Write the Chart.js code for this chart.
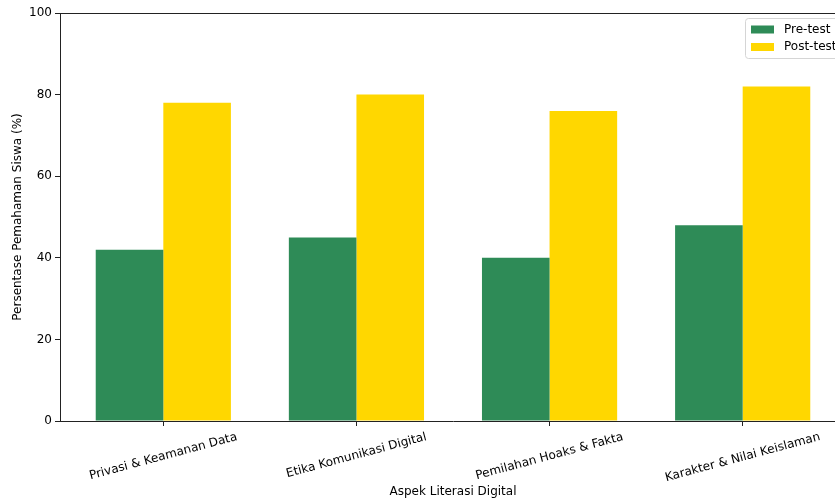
<!DOCTYPE html>
<html>
<head>
<meta charset="utf-8">
<script src="https://cdn.jsdelivr.net/npm/chart.js@4/dist/chart.umd.min.js"></script>
<style>
html,body{margin:0;padding:0;background:#fff;overflow:hidden;}
canvas{display:block;}
</style>
</head>
<body>
<canvas id="c" width="870" height="501" style="width:870px;height:501px"></canvas>
<script>
const categories = ["Privasi & Keamanan Data", "Etika Komunikasi Digital", "Pemilahan Hoaks & Fakta", "Karakter & Nilai Keislaman"];
const preTest = [42, 45, 40, 48];
const postTest = [78, 80, 76, 82];
const seriesNames = ["Pre-test", "Post-test"];
const seriesColors = ["#2E8B57", "#FFD700"];
const yTicks = [0, 20, 40, 60, 80, 100];
const xTitle = "Aspek Literasi Digital";
const yTitle = "Persentase Pemahaman Siswa (%)";

const FONT = "'DejaVu Sans', sans-serif";
Chart.defaults.font.family = FONT;
Chart.defaults.font.size = 12;
Chart.defaults.color = '#000';

const decor = {
  id: 'decor',
  afterDraw(chart) {
    const ctx = chart.ctx;
    const a = chart.chartArea;
    const xs = chart.scales.x;
    ctx.save();
    // top spine
    ctx.strokeStyle = '#222';
    ctx.lineWidth = 1;
    ctx.beginPath();
    ctx.moveTo(a.left, a.top + 0.5);
    ctx.lineTo(a.right, a.top + 0.5);
    ctx.stroke();
    // x tick labels rotated 15deg, centered
    ctx.font = '12px ' + FONT;
    ctx.fillStyle = '#000';
    const th = 14;
    const ang = 15 * Math.PI / 180;
    categories.forEach((lab, i) => {
      const x = xs.getPixelForValue(i);
      const w = ctx.measureText(lab).width;
      const bh = w * Math.sin(ang) + th * Math.cos(ang);
      const cy = a.bottom + 9 + bh / 2;
      ctx.save();
      ctx.translate(x, cy);
      ctx.rotate(-ang);
      ctx.textAlign = 'center';
      ctx.textBaseline = 'middle';
      ctx.fillText(lab, 0, 0);
      ctx.restore();
    });
    // axis titles
    ctx.textAlign = 'center';
    ctx.textBaseline = 'middle';
    ctx.fillText(xTitle, (a.left + a.right) / 2, 492);
    ctx.save();
    ctx.translate(18, (a.top + a.bottom) / 2);
    ctx.rotate(-Math.PI / 2);
    ctx.fillText(yTitle, 0, 0);
    ctx.restore();
    // legend
    const lx = 745.5, ly = 18.5, lw = 94, lh = 40, r = 3;
    ctx.beginPath();
    ctx.moveTo(lx + r, ly);
    ctx.lineTo(lx + lw - r, ly);
    ctx.quadraticCurveTo(lx + lw, ly, lx + lw, ly + r);
    ctx.lineTo(lx + lw, ly + lh - r);
    ctx.quadraticCurveTo(lx + lw, ly + lh, lx + lw - r, ly + lh);
    ctx.lineTo(lx + r, ly + lh);
    ctx.quadraticCurveTo(lx, ly + lh, lx, ly + lh - r);
    ctx.lineTo(lx, ly + r);
    ctx.quadraticCurveTo(lx, ly, lx + r, ly);
    ctx.closePath();
    ctx.fillStyle = 'rgba(255,255,255,0.8)';
    ctx.fill();
    ctx.strokeStyle = '#d5d5d5';
    ctx.stroke();
    const rows = [29.5, 47];
    seriesNames.forEach((n, i) => {
      ctx.fillStyle = seriesColors[i];
      ctx.fillRect(751, rows[i] - 4, 23, 8);
      ctx.fillStyle = '#000';
      ctx.textAlign = 'left';
      ctx.textBaseline = 'middle';
      ctx.fillText(n, 784, rows[i]);
    });
    ctx.restore();
  }
};

new Chart(document.getElementById('c'), {
  type: 'bar',
  data: {
    labels: categories,
    datasets: [
      { label: seriesNames[0], data: preTest, backgroundColor: seriesColors[0], borderWidth: 0 },
      { label: seriesNames[1], data: postTest, backgroundColor: seriesColors[1], borderWidth: 0 }
    ]
  },
  options: {
    responsive: false,
    animation: false,
    devicePixelRatio: 1,
    datasets: { bar: { categoryPercentage: 0.7, barPercentage: 1.0 } },
    layout: { padding: { left: 0, right: 24, top: 13, bottom: 0 } },
    plugins: { legend: { display: false }, tooltip: { enabled: false } },
    scales: {
      x: {
        offset: true,
        grid: { display: true, drawOnChartArea: false, drawTicks: true, tickLength: 5, offset: false, color: '#222' },
        border: { display: true, color: '#222', width: 1 },
        ticks: { display: false },
        afterBuildTicks(s) { s._startValue = -0.535; s._valueRange = 4.07; },
        afterFit(s) { s.height = 80; }
      },
      y: {
        min: 0, max: 100,
        afterBuildTicks(s) { s.ticks = yTicks.map(v => ({ value: v })); },
        grid: { display: true, drawOnChartArea: false, drawTicks: true, tickLength: 5, color: '#222' },
        border: { display: true, color: '#222', width: 1 },
        ticks: { padding: 3, color: '#000', font: { size: 12 } },
        afterFit(s) { s.width = 60; }
      }
    }
  },
  plugins: [decor]
});
</script>
</body>
</html>
